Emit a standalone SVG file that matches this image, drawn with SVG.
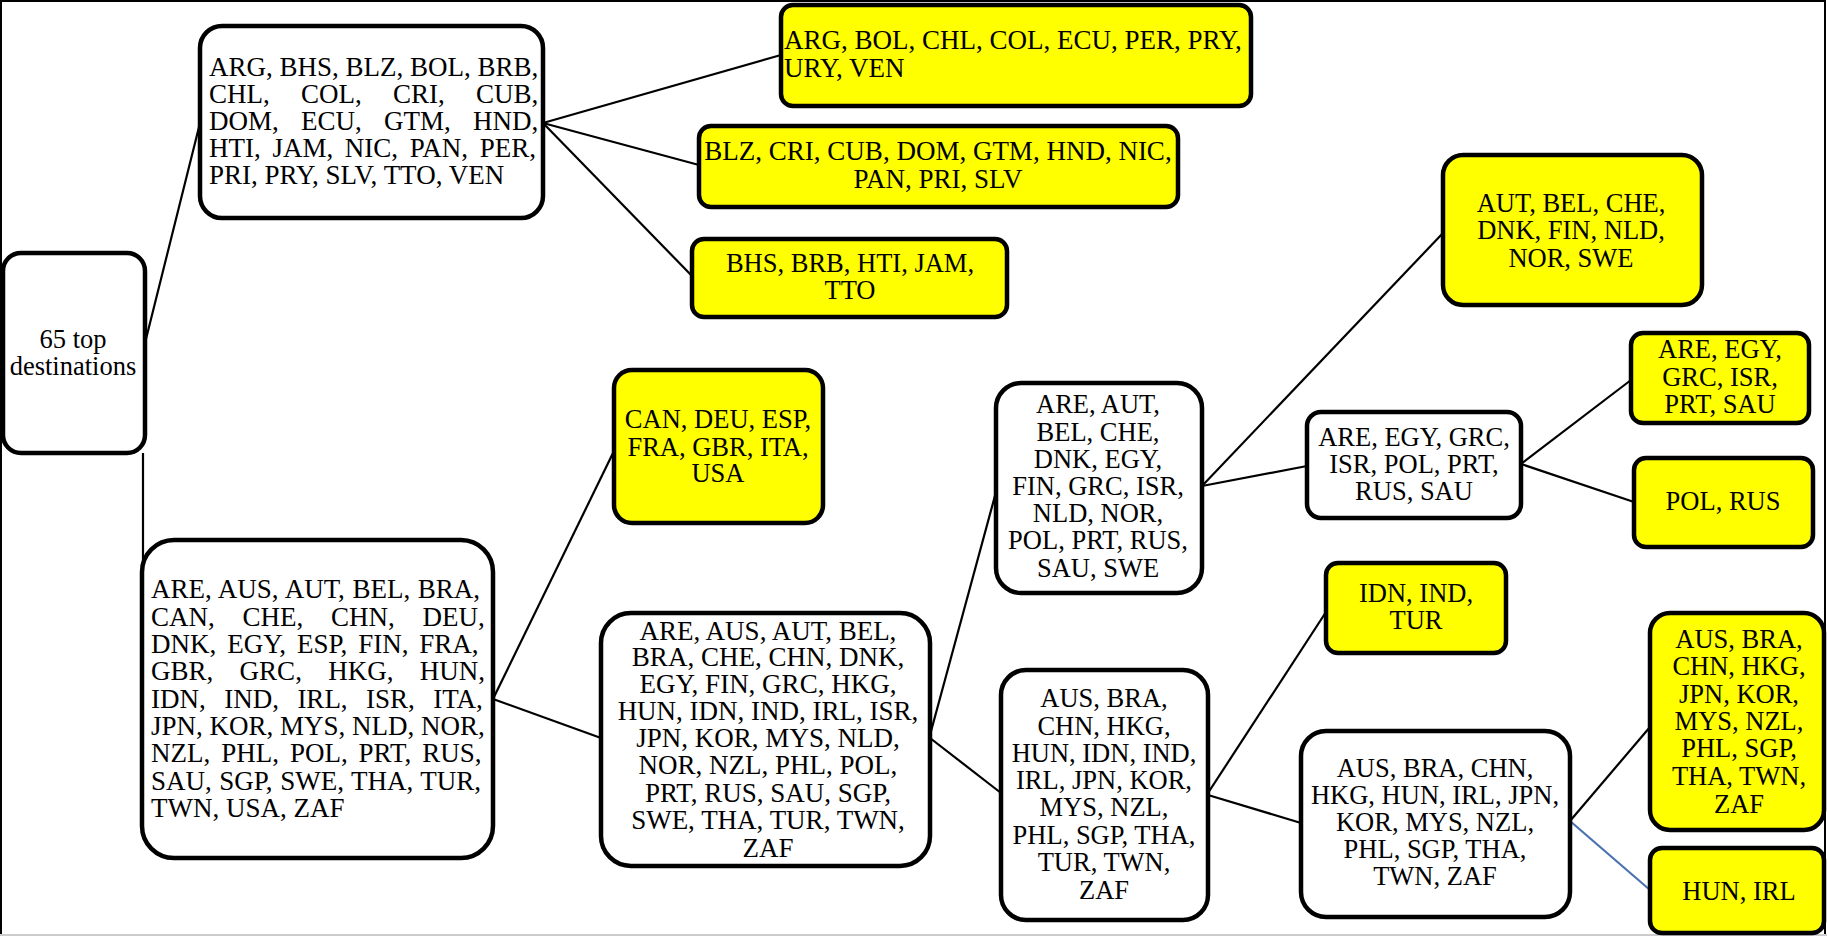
<svg xmlns="http://www.w3.org/2000/svg" width="1827" height="936" viewBox="0 0 1827 936">
<style>
.box{fill:#ffffff;stroke:#000;stroke-width:4.5}
.yel{fill:#ffff00;stroke:#000;stroke-width:4.5}
text{font-family:"Liberation Serif","Times New Roman",serif;font-size:26.5px;fill:#000}
.big text{font-size:27px}
.c{text-anchor:middle}
.ln{stroke:#000;stroke-width:2.2;fill:none}
.blue{stroke:#4a72b0;stroke-width:2.2;fill:none}
</style>
<rect x="0" y="0" width="1827" height="936" fill="#ffffff"/>
<path d="M1 935 V1 H1825 V935" fill="none" stroke="#000" stroke-width="2"/>
<path d="M0 935 H1827" fill="none" stroke="#cccccc" stroke-width="2"/>
<g id="connectors">
<path class="ln" d="M145 343 L200 123"/>
<path class="ln" d="M143 453 L143 560"/>
<path class="ln" d="M543 123 L781 55"/>
<path class="ln" d="M543 123 L699 165"/>
<path class="ln" d="M543 123 L692 276"/>
<path class="ln" d="M493 699 L614 451"/>
<path class="ln" d="M493 699 L601 738"/>
<path class="ln" d="M930 735 L996 492"/>
<path class="ln" d="M930 738 L1001 793"/>
<path class="ln" d="M1202 486 L1443 233"/>
<path class="ln" d="M1202 486 L1307 466"/>
<path class="ln" d="M1521 464 L1631 380"/>
<path class="ln" d="M1521 464 L1634 502"/>
<path class="ln" d="M1208 793 L1326 612"/>
<path class="ln" d="M1208 795 L1301 823"/>
<path class="ln" d="M1570 821 L1650 727"/>
<path class="blue" d="M1570 821 L1650 890"/>
</g>
<g id="root">
<rect class="box" x="3" y="253" width="142" height="200" rx="18"/>
<text class="c" x="73" y="348">65 top</text>
<text class="c" x="73" y="375">destinations</text>
</g>
<g id="nodeA" class="big">
<rect class="box" x="200" y="26" width="343" height="192" rx="22"/>
<text x="209" y="76">ARG, BHS, BLZ, BOL, BRB,</text>
<text x="209" y="103" style="word-spacing:24.5px">CHL, COL, CRI, CUB,</text>
<text x="209" y="130" style="word-spacing:15.5px">DOM, ECU, GTM, HND,</text>
<text x="209" y="157" style="word-spacing:4.9px">HTI, JAM, NIC, PAN, PER,</text>
<text x="209" y="184">PRI, PRY, SLV, TTO, VEN</text>
</g>
<g id="nodeY1" class="big">
<rect class="yel" x="781" y="5" width="470" height="101" rx="12"/>
<text x="784" y="49">ARG, BOL, CHL, COL, ECU, PER, PRY,</text>
<text x="784" y="77">URY, VEN</text>
</g>
<g id="nodeY2" class="big">
<rect class="yel" x="699" y="126" width="479" height="81" rx="12"/>
<text class="c" x="938" y="160">BLZ, CRI, CUB, DOM, GTM, HND, NIC,</text>
<text class="c" x="938" y="188">PAN, PRI, SLV</text>
</g>
<g id="nodeY3">
<rect class="yel" x="692" y="239" width="315" height="78" rx="12"/>
<text class="c" x="850" y="272">BHS, BRB, HTI, JAM,</text>
<text class="c" x="850" y="299">TTO</text>
</g>
<g id="nodeB" class="big">
<rect class="box" x="142" y="540" width="351" height="318" rx="32"/>
<text x="151" y="598" style="word-spacing:0.8px">ARE, AUS, AUT, BEL, BRA,</text>
<text x="151" y="626" style="word-spacing:21px">CAN, CHE, CHN, DEU,</text>
<text x="151" y="653" style="word-spacing:4.2px">DNK, EGY, ESP, FIN, FRA,</text>
<text x="151" y="680" style="word-spacing:19.6px">GBR, GRC, HKG, HUN,</text>
<text x="151" y="708" style="word-spacing:11.7px">IDN, IND, IRL, ISR, ITA,</text>
<text x="151" y="735">JPN, KOR, MYS, NLD, NOR,</text>
<text x="151" y="762" style="word-spacing:4.2px">NZL, PHL, POL, PRT, RUS,</text>
<text x="151" y="790" style="word-spacing:0.8px">SAU, SGP, SWE, THA, TUR,</text>
<text x="151" y="817">TWN, USA, ZAF</text>
</g>
<g id="nodeY7">
<rect class="yel" x="614" y="370" width="209" height="153" rx="18"/>
<text class="c" x="718" y="428">CAN, DEU, ESP,</text>
<text class="c" x="718" y="456">FRA, GBR, ITA,</text>
<text class="c" x="718" y="482">USA</text>
</g>
<g id="nodeC" class="big">
<rect class="box" x="601" y="613" width="329" height="253" rx="30"/>
<text class="c" x="768" y="640">ARE, AUS, AUT, BEL,</text>
<text class="c" x="768" y="666">BRA, CHE, CHN, DNK,</text>
<text class="c" x="768" y="693">EGY, FIN, GRC, HKG,</text>
<text class="c" x="768" y="720">HUN, IDN, IND, IRL, ISR,</text>
<text class="c" x="768" y="747">JPN, KOR, MYS, NLD,</text>
<text class="c" x="768" y="774">NOR, NZL, PHL, POL,</text>
<text class="c" x="768" y="802">PRT, RUS, SAU, SGP,</text>
<text class="c" x="768" y="829">SWE, THA, TUR, TWN,</text>
<text class="c" x="768" y="857">ZAF</text>
</g>
<g id="nodeE">
<rect class="box" x="996" y="383" width="206" height="210" rx="25"/>
<text class="c" x="1098" y="413">ARE, AUT,</text>
<text class="c" x="1098" y="441">BEL, CHE,</text>
<text class="c" x="1098" y="468">DNK, EGY,</text>
<text class="c" x="1098" y="495">FIN, GRC, ISR,</text>
<text class="c" x="1098" y="522">NLD, NOR,</text>
<text class="c" x="1098" y="549">POL, PRT, RUS,</text>
<text class="c" x="1098" y="577">SAU, SWE</text>
</g>
<g id="nodeF">
<rect class="box" x="1001" y="670" width="207" height="250" rx="25"/>
<text class="c" x="1104" y="707">AUS, BRA,</text>
<text class="c" x="1104" y="735">CHN, HKG,</text>
<text class="c" x="1104" y="762">HUN, IDN, IND,</text>
<text class="c" x="1104" y="789">IRL, JPN, KOR,</text>
<text class="c" x="1104" y="816">MYS, NZL,</text>
<text class="c" x="1104" y="844">PHL, SGP, THA,</text>
<text class="c" x="1104" y="871">TUR, TWN,</text>
<text class="c" x="1104" y="899">ZAF</text>
</g>
<g id="nodeY4">
<rect class="yel" x="1443" y="155" width="259" height="150" rx="20"/>
<text class="c" x="1571" y="212">AUT, BEL, CHE,</text>
<text class="c" x="1571" y="239">DNK, FIN, NLD,</text>
<text class="c" x="1571" y="267">NOR, SWE</text>
</g>
<g id="nodeD">
<rect class="box" x="1307" y="412" width="214" height="106" rx="14"/>
<text class="c" x="1414" y="446">ARE, EGY, GRC,</text>
<text class="c" x="1414" y="473">ISR, POL, PRT,</text>
<text class="c" x="1414" y="500">RUS, SAU</text>
</g>
<g id="nodeY5">
<rect class="yel" x="1631" y="333" width="178" height="90" rx="12"/>
<text class="c" x="1720" y="358">ARE, EGY,</text>
<text class="c" x="1720" y="386">GRC, ISR,</text>
<text class="c" x="1720" y="413">PRT, SAU</text>
</g>
<g id="nodeY6">
<rect class="yel" x="1634" y="458" width="179" height="89" rx="12"/>
<text class="c" x="1723" y="510">POL, RUS</text>
</g>
<g id="nodeY8">
<rect class="yel" x="1326" y="563" width="180" height="90" rx="12"/>
<text class="c" x="1416" y="602">IDN, IND,</text>
<text class="c" x="1416" y="629">TUR</text>
</g>
<g id="nodeG">
<rect class="box" x="1301" y="731" width="269" height="186" rx="25"/>
<text class="c" x="1435" y="777">AUS, BRA, CHN,</text>
<text class="c" x="1435" y="804">HKG, HUN, IRL, JPN,</text>
<text class="c" x="1435" y="831">KOR, MYS, NZL,</text>
<text class="c" x="1435" y="858">PHL, SGP, THA,</text>
<text class="c" x="1435" y="885">TWN, ZAF</text>
</g>
<g id="nodeY9">
<rect class="yel" x="1650" y="613" width="174" height="217" rx="20"/>
<text class="c" x="1739" y="648">AUS, BRA,</text>
<text class="c" x="1739" y="675">CHN, HKG,</text>
<text class="c" x="1739" y="703">JPN, KOR,</text>
<text class="c" x="1739" y="730">MYS, NZL,</text>
<text class="c" x="1739" y="757">PHL, SGP,</text>
<text class="c" x="1739" y="785">THA, TWN,</text>
<text class="c" x="1739" y="813">ZAF</text>
</g>
<g id="nodeY10">
<rect class="yel" x="1650" y="848" width="174" height="85" rx="12"/>
<text class="c" x="1739" y="900">HUN, IRL</text>
</g>
</svg>
